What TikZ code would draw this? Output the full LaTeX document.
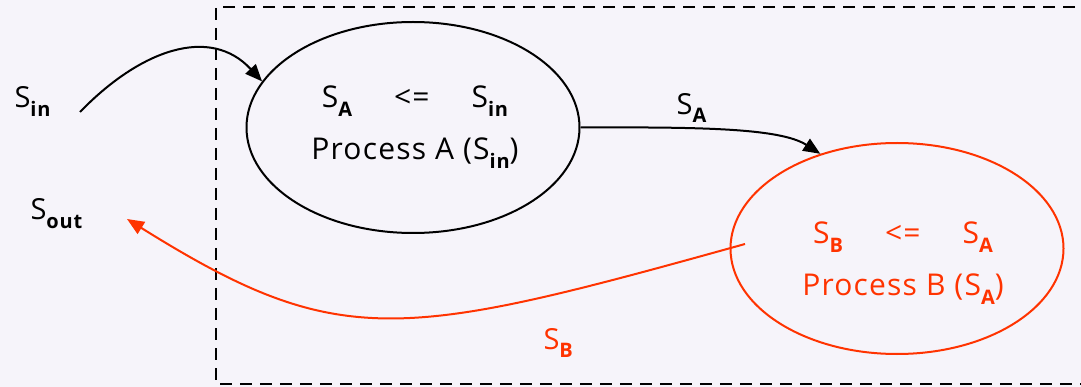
\documentclass[tikz,border=0pt]{standalone}
\usepackage{fontspec}
\setmainfont{Open Sans}[LetterSpace=4]
\usetikzlibrary{arrows.meta,positioning,shapes.geometric}
\definecolor{procred}{RGB}{255,51,0}
\definecolor{paper}{RGB}{246,244,250}
\newcommand{\lowsub}[1]{\raisebox{-0.28em}{\fontsize{20}{20}\selectfont\bfseries #1}}
\tikzset{
  proc/.style={draw,ellipse,line width=2pt,minimum width=333pt,
               minimum height=211pt,inner sep=0pt},
  ptext/.style={align=center,font=\fontsize{30}{52}\selectfont},
  sig/.style={font=\fontsize{29}{35}\selectfont},
  arr/.style={-{Triangle[length=17pt,width=14pt]},line width=2pt},
}

\begin{document}
\begin{tikzpicture}[x=1pt,y=-1pt]
  \useasboundingbox (0,0) rectangle (1081,387);
  \fill[paper] (0,0) rectangle (1081,387);
  \clip (0,0) rectangle (1081,387);
  % system boundary
  \draw[line width=2pt,dash pattern=on 12pt off 8pt]
    (1095,7) -- (216,7) -- (216,384) -- (1095,384);
  % processes
  \node[proc] (pa) at (413,127.5) {};
  \node[proc,draw=procred] (pb) at (897,248.5) {};
  \node[ptext] (ta) at (415,127)
    {S\lowsub{A}\hspace{1.4em}<=\hspace{1.4em}S\lowsub{in}\\Process A (S\lowsub{in})};
  \node[ptext,text=procred] (tb) at (903,263)
    {S\lowsub{B}\hspace{1.4em}<=\hspace{1.4em}S\lowsub{A}\\Process B (S\lowsub{A})};
  % signals
  \node[sig,anchor=base west] (sin) at (11,108) {S\lowsub{in}};
  \node[sig,anchor=base west] (sout) at (27,220) {S\lowsub{out}};
  \node[sig,text=procred,anchor=base west] (lsb) at (540,349) {S\lowsub{B}};
  \coordinate (inStart) at (80,112);
  \coordinate (outEnd) at (127,219);
  \coordinate (bStart) at (745,244);
  \draw[arr] (inStart) .. controls (140,50) and (210,25) .. (pa.163);
  \draw[arr] (pa.east) .. controls (700,127) and (780,128) .. (pb.129)
    node[pos=0.35,above=2pt,sig] (lsa) {S\lowsub{A}};
  \draw[arr,color=procred] (bStart) .. controls (400,340) and (340,352) .. (outEnd);
\end{tikzpicture}
\end{document}
